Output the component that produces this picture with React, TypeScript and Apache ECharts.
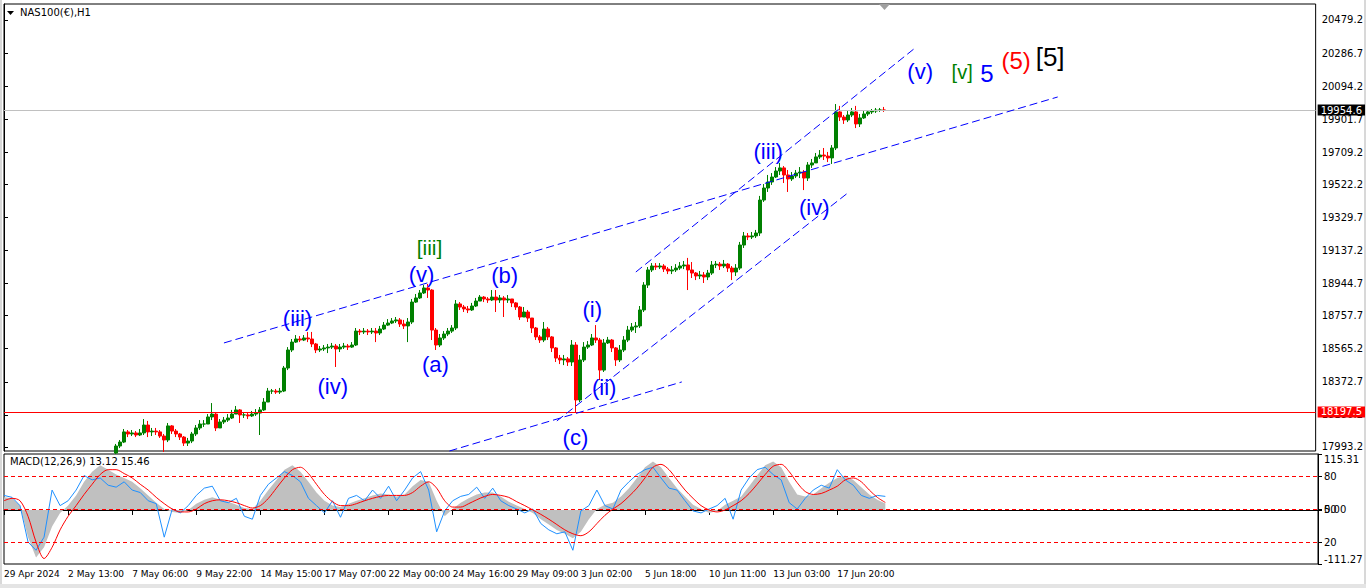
import React, { useEffect, useRef } from "react";
import * as echarts from "echarts";

const FONT = '"DejaVu Sans", Tahoma, sans-serif';
const WAVE_FONT = '"Liberation Sans", Arial, sans-serif';

// ---------- data ----------
const CATEGORY_COUNT = 329; // 4-hour slots across the whole window (incl. right shift space)
const FIRST_BAR = 28; // earlier bars are below the visible price range
const FIRST_OPEN = 17958;

const xTickLabels = [
  "29 Apr 2024", "2 May 13:00", "7 May 06:00", "9 May 22:00", "14 May 15:00",
  "17 May 07:00", "22 May 00:00", "24 May 16:00", "29 May 09:00", "3 Jun 02:00",
  "5 Jun 18:00", "10 Jun 11:00", "13 Jun 03:00", "17 Jun 20:00",
];

const priceTicks = [
  17993.2, 18180.2, 18372.7, 18565.2, 18757.7, 18944.7, 19137.2,
  19329.7, 19522.2, 19709.2, 19901.7, 20094.2, 20286.7, 20479.2,
];
const priceMin = 17969.9;
const priceMax = 20572.3;
const lastPrice = 19954.6;
const levelPrice = 18197.5;

const closes = [
  17999, 18022, 18081, 18069, 18075, 18063, 18075, 18121, 18081, 18086,
  18081, 18057, 18034, 18116, 18086, 18069, 18051, 18016, 18028, 18069,
  18104, 18127, 18127, 18168, 18185, 18104, 18139, 18150, 18162, 18185,
  18209, 18180, 18180, 18174, 18185, 18191, 18209, 18255, 18319, 18319,
  18313, 18319, 18453, 18558, 18604, 18622, 18616, 18628, 18622, 18593,
  18558, 18564, 18570, 18575, 18581, 18564, 18575, 18581, 18575, 18587,
  18668, 18663, 18668, 18663, 18668, 18657, 18680, 18703, 18715, 18727,
  18733, 18709, 18698, 18721, 18837, 18861, 18890, 18919, 18907, 18674,
  18587, 18628, 18651, 18668, 18686, 18826, 18808, 18797, 18791, 18814,
  18843, 18866, 18855, 18849, 18866, 18849, 18861, 18849, 18855, 18832,
  18808, 18750, 18779, 18744, 18686, 18634, 18616, 18680, 18634, 18570,
  18511, 18500, 18506, 18488, 18587, 18267, 18500, 18575, 18587, 18628,
  18616, 18441, 18599, 18616, 18570, 18500, 18558, 18616, 18674, 18692,
  18698, 18791, 18936, 19024, 19047, 19041, 19047, 19029, 19018, 19024,
  19035, 19047, 19053, 19024, 19006, 18989, 18995, 18983, 19006, 19053,
  19058, 19047, 19058, 19035, 19012, 19035, 19169, 19222, 19216, 19222,
  19239, 19431, 19501, 19536, 19565, 19600, 19618, 19577, 19554, 19571,
  19588, 19594, 19559, 19635, 19647, 19682, 19693, 19687, 19676, 19734,
  19944, 19914, 19897, 19926, 19944, 19874, 19909, 19932, 19944, 19949,
  19955, 19955, 19954.6,
];
const highs = [
  18011, 18034, 18098, 18092, 18092, 18086, 18098, 18156, 18145, 18104,
  18104, 18092, 18069, 18133, 18121, 18098, 18075, 18057, 18046, 18081,
  18121, 18150, 18150, 18185, 18249, 18197, 18156, 18168, 18185, 18209,
  18232, 18214, 18197, 18191, 18203, 18214, 18226, 18278, 18337, 18331,
  18331, 18337, 18465, 18575, 18622, 18645, 18639, 18645, 18663, 18663,
  18599, 18581, 18587, 18593, 18599, 18593, 18593, 18599, 18593, 18604,
  18686, 18680, 18686, 18680, 18686, 18686, 18698, 18721, 18738, 18744,
  18750, 18744, 18733, 18744, 18855, 18884, 18907, 18936, 18942, 18912,
  18686, 18651, 18668, 18686, 18703, 18849, 18837, 18820, 18814, 18832,
  18861, 18878, 18872, 18866, 18907, 18907, 18878, 18872, 18878, 18855,
  18837, 18814, 18808, 18791, 18744, 18692, 18645, 18721, 18692, 18639,
  18575, 18529, 18529, 18517, 18616, 18604, 18529, 18604, 18610, 18651,
  18703, 18628, 18622, 18634, 18622, 18575, 18587, 18639, 18698, 18715,
  18721, 18814, 18953, 19041, 19064, 19064, 19064, 19058, 19041, 19047,
  19058, 19070, 19076, 19094, 19070, 19012, 19018, 19012, 19024, 19076,
  19076, 19070, 19082, 19064, 19047, 19058, 19187, 19245, 19239, 19245,
  19257, 19455, 19524, 19577, 19588, 19623, 19647, 19629, 19606, 19594,
  19606, 19623, 19606, 19652, 19670, 19705, 19722, 19734, 19711, 19751,
  19990, 19979, 19926, 19949, 19967, 19979, 19932, 19949, 19955, 19961,
  19967, 19967, 19973,
];
const lows = [
  17952, 17987, 18016, 18051, 18057, 18051, 18057, 18063, 18051, 18057,
  18063, 18046, 17964, 18022, 18069, 18051, 18034, 17999, 17999, 18016,
  18057, 18092, 18110, 18127, 18150, 18086, 18104, 18127, 18139, 18156,
  18185, 18133, 18162, 18156, 18168, 18174, 18063, 18203, 18255, 18302,
  18302, 18302, 18313, 18441, 18546, 18599, 18604, 18610, 18604, 18575,
  18540, 18546, 18552, 18540, 18564, 18459, 18546, 18564, 18558, 18570,
  18581, 18645, 18651, 18645, 18651, 18604, 18645, 18674, 18698, 18709,
  18715, 18692, 18680, 18604, 18709, 18832, 18855, 18884, 18861, 18616,
  18558, 18575, 18616, 18639, 18657, 18674, 18791, 18779, 18773, 18785,
  18808, 18843, 18837, 18832, 18843, 18779, 18832, 18750, 18832, 18808,
  18791, 18733, 18750, 18721, 18657, 18616, 18599, 18604, 18616, 18546,
  18488, 18476, 18470, 18465, 18465, 18197, 18255, 18488, 18564, 18581,
  18599, 18383, 18430, 18593, 18546, 18465, 18488, 18546, 18604, 18663,
  18657, 18686, 18779, 18919, 19012, 19024, 19029, 19012, 19000, 19000,
  19012, 19024, 19029, 18907, 18977, 18965, 18971, 18948, 18965, 18995,
  19035, 19024, 19035, 19012, 18965, 18989, 19024, 19152, 19198, 19204,
  19210, 19222, 19420, 19478, 19519, 19559, 19577, 19530, 19478, 19542,
  19559, 19559, 19489, 19542, 19618, 19647, 19670, 19664, 19652, 19641,
  19722, 19891, 19874, 19885, 19914, 19850, 19856, 19903, 19920, 19932,
  19938, 19944, 19944,
];

// MACD window, one value every second slot (8 px)
const macdMin = -111.27;
const macdMax = 115.31;
const macdTicks = [-111.27, 0, 115.31];
const oscLevels = [20, 50, 80];
const macdHist = [
  26, 24, 9, -56, -98, -77, -34, -6, 9, 30,
  58, 79, 92, 83, 73, 66, 58, 45, 30, 15,
  2, -4, -6, 0, 13, 21, 26, 21, 17, 11,
  4, 2, 19, 41, 62, 83, 92, 79, 58, 36,
  19, 9, 6, 13, 19, 24, 30, 34, 32, 28,
  32, 49, 62, 58, 19, -13, 2, 15, 24, 32,
  36, 36, 28, 17, 9, 2, -6, -19, -30, -41,
  -49, -58, -45, -19, 2, 11, 15, 28, 45, 66,
  88, 100, 88, 66, 45, 28, 11, 2, -6, -2,
  11, 19, 28, 49, 71, 92, 100, 88, 58, 32,
  28, 32, 45, 56, 66, 71, 62, 47, 32, 21,
  13.12,
];
const macdSignal = [
  19, 24, 19, -13, -66, -100, -77, -41, -13, 9,
  32, 53, 73, 83, 83, 75, 66, 53, 41, 26,
  13, 2, -4, -4, 2, 13, 19, 21, 19, 15,
  9, 4, 9, 24, 45, 66, 83, 88, 75, 53,
  32, 17, 9, 9, 13, 19, 24, 28, 30, 30,
  30, 36, 49, 58, 45, 19, 6, 6, 13, 21,
  28, 32, 30, 26, 17, 9, 0, -9, -19, -30,
  -41, -49, -53, -45, -28, -11, 2, 13, 28, 45,
  66, 88, 94, 83, 62, 41, 24, 9, 0, -4,
  0, 9, 19, 34, 53, 73, 90, 94, 79, 56,
  38, 32, 34, 41, 49, 62, 66, 58, 41, 26,
  15.46,
];
const macdFast = [
  30, 26, 9, -66, -83, -56, 41, 9, 19, 41,
  71, 62, 66, 51, 47, 58, 41, 36, 19, 13,
  -56, 2, -6, 9, 30, 45, 49, 19, 15, 24,
  -13, -19, 30, 53, 66, 79, 71, 58, 24, 9,
  -6, 19, -15, 24, 30, 19, 41, 24, 49, 19,
  41, 66, 79, 41, -45, -2, 19, 28, 32, 47,
  24, 45, 19, 9, 2, -6, 2, -28, -41, -49,
  -45, -83, -2, 9, 41, 9, 2, 41, 58, 73,
  83, 88, 66, 45, 41, 19, -2, -6, 2, 9,
  24, -19, 41, 66, 83, 88, 73, 62, 15, 2,
  24, 41, 51, 45, 83, 62, 51, 30, 24, 30,
  28,
];

// Elliott-wave annotations (slot index, price)
const waveLabels = [
  { text: "(iii)", bar: 73.4, price: 18744, kind: "blue" },
  { text: "(iv)", bar: 82.2, price: 18348, kind: "blue" },
  { text: "[iii]", bar: 106.4, price: 19152, kind: "green" },
  { text: "(v)", bar: 104.4, price: 18995, kind: "blue" },
  { text: "(a)", bar: 107.9, price: 18476, kind: "blue" },
  { text: "(b)", bar: 125.2, price: 18989, kind: "blue" },
  { text: "(c)", bar: 142.9, price: 18051, kind: "blue" },
  { text: "(i)", bar: 147.1, price: 18791, kind: "blue" },
  { text: "(ii)", bar: 150.1, price: 18337, kind: "blue" },
  { text: "(iii)", bar: 191.1, price: 19716, kind: "blue" },
  { text: "(iv)", bar: 202.6, price: 19390, kind: "blue" },
  { text: "(v)", bar: 229.1, price: 20182, kind: "blue" },
  { text: "[v]", bar: 239.6, price: 20176, kind: "greenSmall" },
  { text: "5", bar: 245.8, price: 20165, kind: "blueBig" },
  { text: "(5)", bar: 253.1, price: 20246, kind: "red" },
  { text: "[5]", bar: 261.6, price: 20264, kind: "black" },
];
const trendLines = [
  [55, 18599, 263.5, 20031],
  [111.4, 17970, 169.5, 18372],
  [138.25, 18145, 211, 19472],
  [158, 19012, 227.5, 20310],
];

// ---------- styles ----------
const waveStyles: Record<string, { color: string; size: number }> = {
  blue: { color: "#0000ff", size: 22 },
  blueBig: { color: "#0000ff", size: 24 },
  green: { color: "#008000", size: 21 },
  greenSmall: { color: "#008000", size: 20 },
  red: { color: "#ff0000", size: 24 },
  black: { color: "#000000", size: 26 },
};

function buildOption() {
  const cats = Array.from({ length: CATEGORY_COUNT }, (_, i) => String(i));
  const candleData: any[] = [];
  for (let i = 0; i < FIRST_BAR + closes.length; i++) {
    if (i < FIRST_BAR) {
      candleData.push("-");
      continue;
    }
    const j = i - FIRST_BAR;
    const open = j === 0 ? FIRST_OPEN : closes[j - 1];
    candleData.push([open, closes[j], lows[j], highs[j]]);
  }
  const spread = (arr: number[]) => {
    const out: any[] = [];
    arr.forEach((v, k) => {
      out[2 * k] = v;
      if (k < arr.length - 1) out[2 * k + 1] = "-";
    });
    return out;
  };
  const isLabelSlot = (i: number) => i % 16 === 0 && i / 16 < xTickLabels.length;

  return {
    animation: false,
    backgroundColor: "#ffffff",
    grid: [
      { left: 4, top: 4, width: 1314, height: 447, show: true, borderColor: "#000", borderWidth: 1, backgroundColor: "#fff" },
      { left: 4, top: 454, width: 1314, height: 110, show: true, borderColor: "#000", borderWidth: 1, backgroundColor: "#fff" },
    ],
    xAxis: [
      { type: "category", gridIndex: 0, data: cats, boundaryGap: false, show: false },
      {
        type: "category",
        gridIndex: 1,
        data: cats,
        boundaryGap: false,
        axisLine: { show: true, lineStyle: { color: "#000" } },
        axisTick: { show: true, interval: isLabelSlot, length: 5, lineStyle: { color: "#000" } },
        axisLabel: {
          interval: isLabelSlot,
          formatter: (_v: string, idx: number) => xTickLabels[idx / 16] ?? "",
          align: "left",
          margin: 5,
          color: "#000",
          fontSize: 9,
          fontFamily: FONT,
        },
        splitLine: { show: false },
      },
      { type: "value", gridIndex: 0, min: 0, max: CATEGORY_COUNT - 1, show: false },
    ],
    yAxis: [
      {
        type: "value",
        gridIndex: 0,
        position: "right",
        min: priceMin,
        max: priceMax,
        axisLine: { show: true, lineStyle: { color: "#000" } },
        axisTick: { show: true, customValues: priceTicks, length: 4, lineStyle: { color: "#000" } },
        axisLabel: {
          customValues: priceTicks,
          formatter: (v: number) => v.toFixed(1),
          color: "#000",
          fontSize: 10,
          fontFamily: FONT,
          margin: 6,
        },
        splitLine: { show: false },
      },
      {
        type: "value",
        gridIndex: 1,
        position: "right",
        min: macdMin,
        max: macdMax,
        axisLine: { show: true, lineStyle: { color: "#000" } },
        axisTick: { show: true, customValues: macdTicks, length: 4, lineStyle: { color: "#000" } },
        axisLabel: {
          customValues: macdTicks,
          formatter: (v: number) => v.toFixed(2),
          color: "#000",
          fontSize: 10,
          fontFamily: FONT,
          margin: 6,
          verticalAlignMinLabel: "bottom",
          verticalAlignMaxLabel: "top",
        },
        splitLine: { show: false },
      },
      {
        type: "value",
        gridIndex: 1,
        position: "right",
        min: 0,
        max: 100,
        axisLine: { show: false },
        axisTick: { show: true, customValues: oscLevels, length: 4, lineStyle: { color: "#000" } },
        axisLabel: {
          customValues: oscLevels,
          formatter: (v: number) => String(v),
          color: "#000",
          fontSize: 10,
          fontFamily: FONT,
          margin: 6,
        },
        splitLine: { show: false },
      },
    ],
    series: [
      {
        type: "candlestick",
        xAxisIndex: 0,
        yAxisIndex: 0,
        data: candleData,
        barWidth: 3,
        clip: true,
        itemStyle: {
          color: "#008000",
          color0: "#ff0000",
          borderColor: "#008000",
          borderColor0: "#ff0000",
          borderWidth: 1,
        },
        markLine: {
          silent: true,
          symbol: ["none", "none"],
          data: [
            {
              yAxis: lastPrice,
              lineStyle: { color: "#c0c0c0", type: "solid", width: 1 },
              label: {
                show: true,
                position: "end",
                formatter: lastPrice.toFixed(1),
                color: "#fff",
                backgroundColor: "#000",
                padding: [1, 3, 0, 3],
                fontSize: 10,
                fontFamily: FONT,
                distance: 2,
              },
            },
            {
              yAxis: levelPrice,
              lineStyle: { color: "#ff0000", type: "solid", width: 1 },
              label: {
                show: true,
                position: "end",
                formatter: levelPrice.toFixed(1),
                color: "#fff",
                backgroundColor: "#ff0000",
                padding: [1, 3, 0, 3],
                fontSize: 10,
                fontFamily: FONT,
                distance: 2,
              },
            },
          ],
        },
      },
      {
        type: "line",
        xAxisIndex: 2,
        yAxisIndex: 0,
        data: [],
        silent: true,
        markLine: {
          silent: true,
          symbol: ["none", "none"],
          label: { show: false },
          lineStyle: { color: "#0000ff", type: [8, 4], width: 1 },
          data: trendLines.map((t) => [{ coord: [t[0], t[1]] }, { coord: [t[2], t[3]] }]),
        },
        markPoint: {
          silent: true,
          data: waveLabels.map((w) => ({
            coord: [w.bar, w.price],
            symbol: "circle",
            symbolSize: 1,
            itemStyle: { color: "rgba(0,0,0,0)" },
            label: {
              show: true,
              position: "inside",
              formatter: w.text,
              color: waveStyles[w.kind].color,
              fontSize: waveStyles[w.kind].size,
              fontFamily: WAVE_FONT,
            },
          })),
        },
      },
      {
        type: "line",
        xAxisIndex: 1,
        yAxisIndex: 1,
        data: spread(macdHist),
        connectNulls: true,
        symbol: "none",
        lineStyle: { width: 0, color: "#c0c0c0" },
        areaStyle: { color: "#c0c0c0", opacity: 1 },
      },
      {
        type: "line",
        xAxisIndex: 1,
        yAxisIndex: 2,
        data: [],
        silent: true,
        markLine: {
          silent: true,
          symbol: ["none", "none"],
          label: { show: false },
          lineStyle: { color: "#ff0000", type: [4, 3], width: 1 },
          data: oscLevels.map((v) => ({ yAxis: v })),
        },
      },
      {
        type: "line",
        xAxisIndex: 1,
        yAxisIndex: 1,
        data: spread(macdFast),
        connectNulls: true,
        symbol: "none",
        lineStyle: { width: 1, color: "#1e90ff" },
      },
      {
        type: "line",
        xAxisIndex: 1,
        yAxisIndex: 1,
        data: spread(macdSignal),
        connectNulls: true,
        symbol: "none",
        smooth: 0.3,
        lineStyle: { width: 1, color: "#ff0000" },
      },
    ],
    graphic: [
      { type: "rect", shape: { x: 0, y: 0, width: 2, height: 588 }, style: { fill: "#d8d8d8" }, silent: true },
      { type: "rect", shape: { x: 1364, y: 0, width: 2, height: 588 }, style: { fill: "#d8d8d8" }, silent: true },
      { type: "rect", shape: { x: 0, y: 584, width: 1366, height: 4 }, style: { fill: "#e4e4e4" }, silent: true },
      { type: "polygon", shape: { points: [[7, 11], [14, 11], [10.5, 15]] }, style: { fill: "#000" } },
      { type: "text", left: 20, top: 7, style: { text: "NAS100(€),H1", fill: "#000", font: `10px ${FONT}` } },
      { type: "polygon", shape: { points: [[879, 4], [890, 4], [884.5, 10]] }, style: { fill: "#a0a0a0" } },
      { type: "text", left: 10, top: 456, style: { text: "MACD(12,26,9) 13.12 15.46", fill: "#000", font: `10px ${FONT}` } },
    ],
  };
}

export default function App() {
  const ref = useRef<HTMLDivElement>(null);
  useEffect(() => {
    document.body.style.margin = "0";
    const chart = echarts.init(ref.current!, null, { renderer: "svg" });
    chart.setOption(buildOption() as any);
    return () => chart.dispose();
  }, []);
  return <div ref={ref} style={{ width: 1366, height: 588, background: "#fff" }} />;
}
